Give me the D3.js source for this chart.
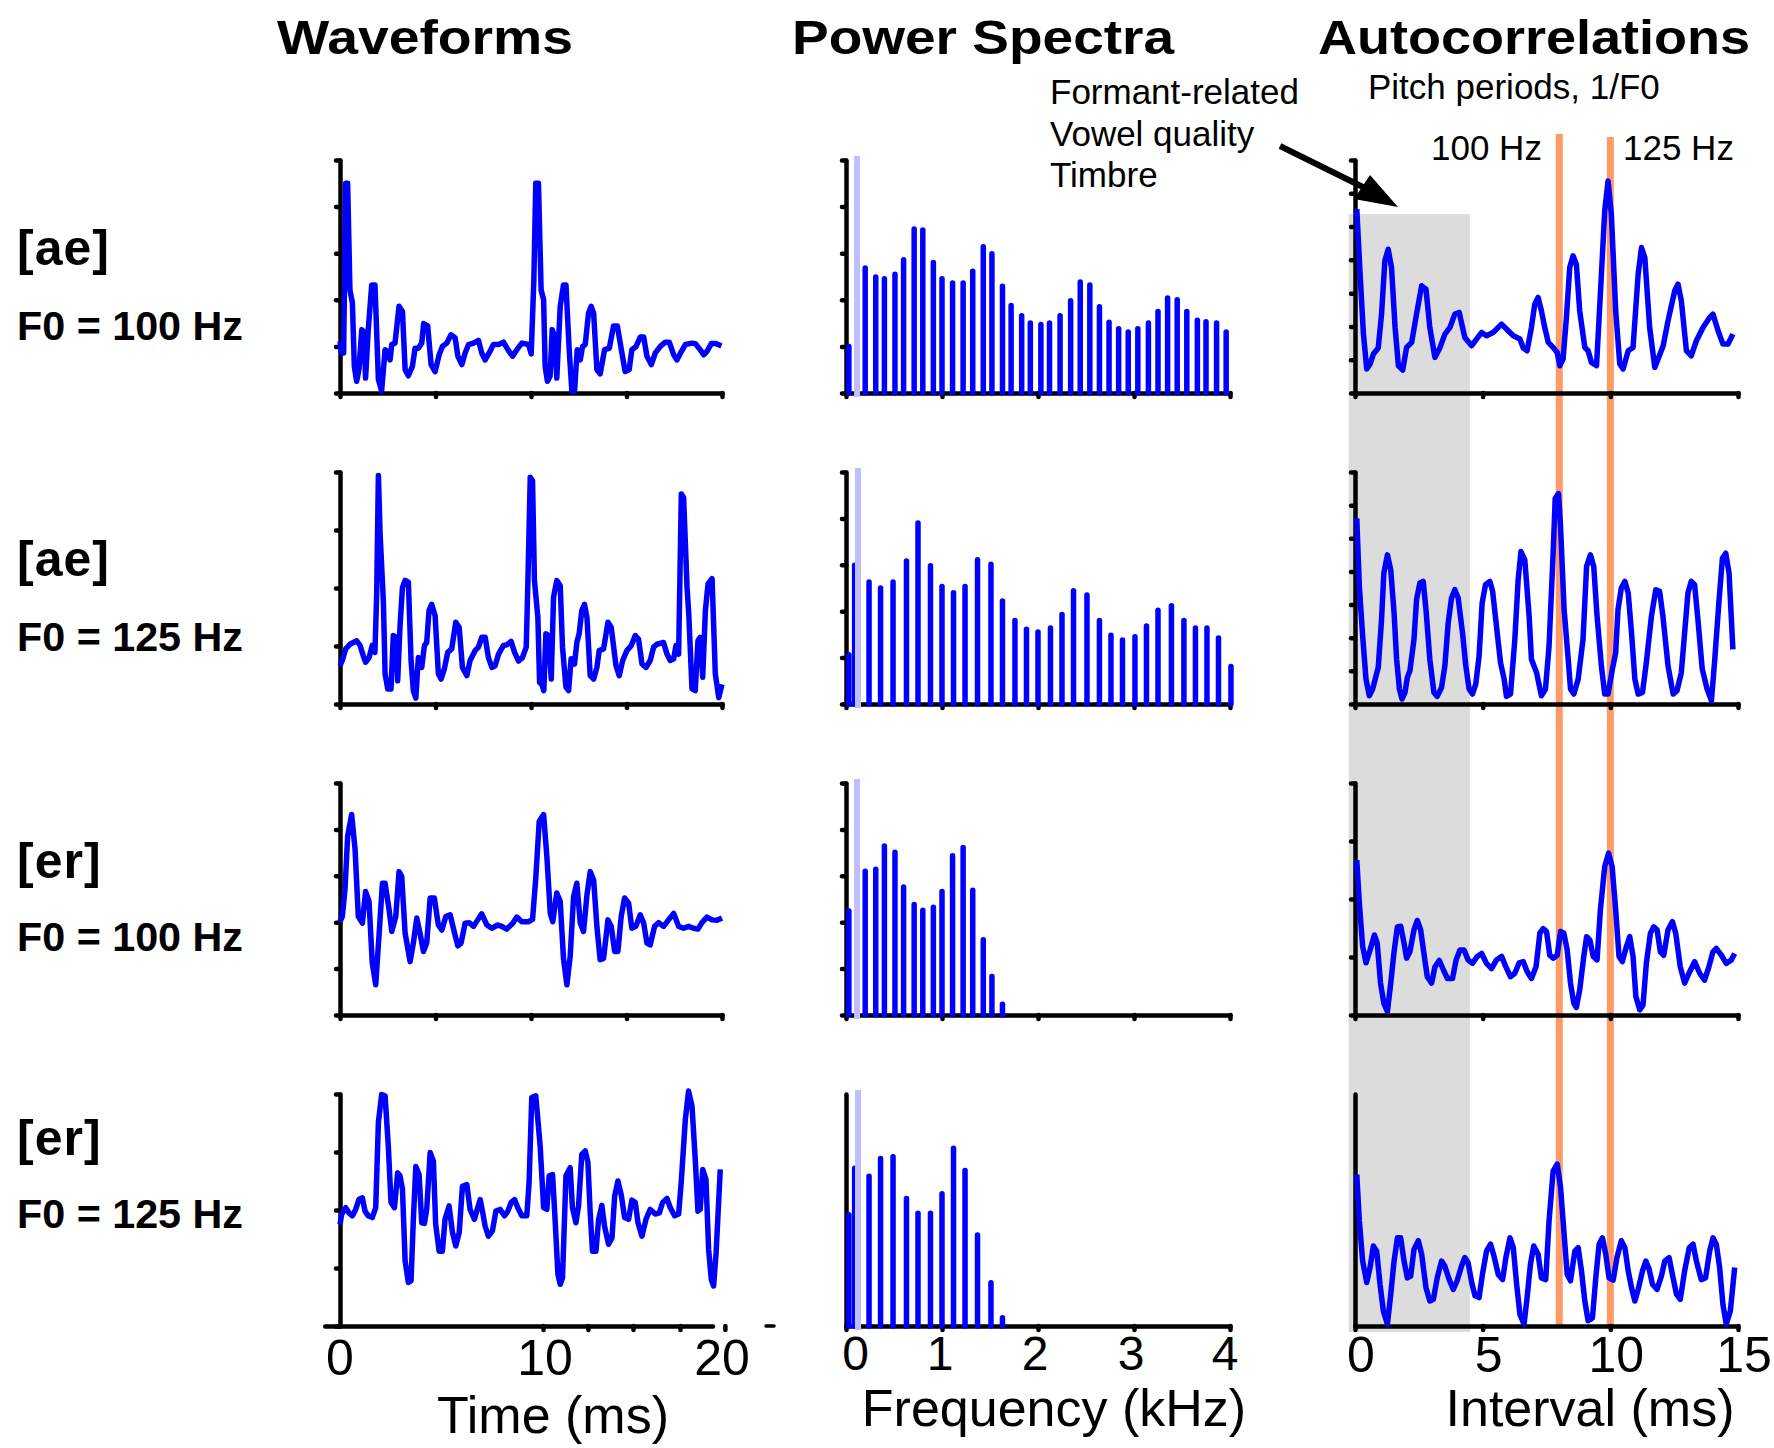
<!DOCTYPE html>
<html><head><meta charset="utf-8">
<script src="https://cdn.jsdelivr.net/npm/d3@7"></script>
<style>body{margin:0;background:#fff}svg{display:block}text{font-family:Arial,"Liberation Sans",Helvetica,sans-serif;fill:#000}</style>
</head><body><svg id="c" width="1774" height="1448"></svg>
<script>
// ---------- text ----------
const columnTitles = ["Waveforms", "Power Spectra", "Autocorrelations"];
const vowelLabels = ["[ae]", "[ae]", "[er]", "[er]"];
const f0Labels = ["F0 = 100 Hz", "F0 = 125 Hz", "F0 = 100 Hz", "F0 = 125 Hz"];
const formantNote = ["Formant-related", "Vowel quality", "Timbre"];
const pitchNote = "Pitch periods, 1/F0";
const pitchLineLabels = ["100 Hz", "125 Hz"];
const xAxisTitles = ["Time (ms)", "Frequency (kHz)", "Interval (ms)"];
const waveTickLabels = [0, 10, 20];
const specTickLabels = [0, 1, 2, 3, 4];
const acTickLabels = [0, 5, 10, 15];

// ---------- waveforms: [time ms, amplitude] ----------
const wave1 = [[0,1.11],[0.09,0.86],[0.19,0.86],[0.30,4.5],[0.40,4.5],[0.52,2.21],[0.65,1.93],[0.75,0.57],[0.87,0.25],[0.99,0.50],[1.14,1.36],[1.24,1.32],[1.34,0.32],[1.48,1.36],[1.66,2.32],[1.83,2.32],[2.01,0.29],[2.18,0.04],[2.36,0.93],[2.50,0.89],[2.62,0.71],[2.71,1.04],[2.88,1.07],[3.09,1.86],[3.27,1.75],[3.41,0.50],[3.58,0.37],[3.79,0.57],[3.93,0.96],[4.10,0.96],[4.28,1.07],[4.38,1.49],[4.59,1.44],[4.77,0.61],[4.98,0.46],[5.19,0.82],[5.36,1.00],[5.59,1.07],[5.81,1.25],[6.03,1.18],[6.17,0.79],[6.38,0.61],[6.55,0.86],[6.73,1.04],[6.99,1.07],[7.25,1.13],[7.42,0.86],[7.60,0.71],[7.81,0.86],[8.03,1.04],[8.30,1.04],[8.56,1.09],[8.79,0.93],[9.03,0.79],[9.26,0.93],[9.52,1.07],[9.87,1.04],[10.01,0.84],[10.15,2.43],[10.25,4.5],[10.39,4.5],[10.53,2.21],[10.66,2.0],[10.74,0.57],[10.86,0.25],[11.00,0.36],[11.11,1.36],[11.23,1.21],[11.35,0.32],[11.53,1.86],[11.70,2.32],[11.83,2.32],[12.00,0.93],[12.14,0.04],[12.28,0.04],[12.42,0.93],[12.58,0.71],[12.70,1.00],[12.84,1.04],[13.01,1.71],[13.15,1.86],[13.28,1.71],[13.45,0.50],[13.62,0.41],[13.85,0.93],[14.10,0.96],[14.32,1.44],[14.52,1.44],[14.76,0.86],[14.93,0.46],[15.14,0.50],[15.28,0.93],[15.49,0.99],[15.72,1.20],[15.90,1.20],[16.07,0.79],[16.30,0.61],[16.51,0.86],[16.77,1.00],[17.03,1.09],[17.24,1.09],[17.47,0.82],[17.64,0.71],[17.87,0.89],[18.08,1.04],[18.43,1.07],[18.60,1.06],[18.86,0.93],[19.04,0.82],[19.21,0.89],[19.44,1.06],[19.69,1.06],[19.97,1.01]];
const wave2 = [[0,0.66],[0.12,0.75],[0.30,0.95],[0.52,1.03],[0.70,1.06],[0.87,1.09],[1.05,1.01],[1.22,0.83],[1.34,0.72],[1.52,0.80],[1.69,1.01],[1.83,0.89],[1.92,1.90],[2.01,3.94],[2.10,2.93],[2.27,1.78],[2.36,0.52],[2.50,0.26],[2.67,0.26],[2.79,1.18],[2.92,1.15],[3.02,0.40],[3.14,1.32],[3.27,2.01],[3.41,2.13],[3.58,2.10],[3.72,0.75],[3.84,0.23],[3.97,0.10],[4.10,0.80],[4.28,0.63],[4.42,1.01],[4.54,1.06],[4.66,1.61],[4.80,1.72],[4.98,1.52],[5.15,0.52],[5.29,0.43],[5.46,0.60],[5.64,0.89],[5.85,0.95],[6.06,1.41],[6.24,1.32],[6.41,0.63],[6.64,0.49],[6.81,0.75],[7.07,0.92],[7.25,0.98],[7.42,1.15],[7.60,1.15],[7.77,0.80],[7.95,0.63],[8.12,0.66],[8.30,0.86],[8.56,1.01],[8.73,1.02],[8.96,1.08],[9.14,0.89],[9.35,0.74],[9.55,0.80],[9.75,0.98],[9.83,2.01],[9.96,3.91],[10.08,3.85],[10.18,2.13],[10.36,1.49],[10.45,0.37],[10.57,0.34],[10.67,0.23],[10.78,1.21],[10.92,1.18],[11.06,0.43],[11.18,1.84],[11.35,2.13],[11.53,2.04],[11.65,0.98],[11.83,0.29],[11.97,0.23],[12.10,0.78],[12.28,0.69],[12.40,1.06],[12.52,1.21],[12.66,1.61],[12.80,1.72],[12.93,1.49],[13.10,0.49],[13.28,0.43],[13.45,0.63],[13.57,0.92],[13.80,0.95],[14.03,1.41],[14.20,1.32],[14.45,0.66],[14.62,0.49],[14.80,0.75],[15.02,0.92],[15.25,1.01],[15.46,1.18],[15.63,1.12],[15.81,0.69],[16.02,0.63],[16.24,0.75],[16.42,0.98],[16.59,1.03],[16.94,1.06],[17.12,0.86],[17.29,0.75],[17.47,0.78],[17.59,1.01],[17.73,0.86],[17.87,3.62],[17.99,3.56],[18.17,2.01],[18.26,1.55],[18.43,0.26],[18.60,0.23],[18.74,1.09],[18.86,1.15],[18.99,0.46],[19.13,1.61],[19.27,2.07],[19.48,2.16],[19.65,0.52],[19.83,0.11],[20.0,0.34]];
const wave3 = [[0,2.01],[0.12,2.12],[0.26,2.70],[0.40,3.85],[0.61,4.32],[0.79,3.56],[0.96,2.12],[1.17,1.98],[1.34,2.66],[1.52,2.45],[1.69,1.12],[1.87,0.65],[2.05,1.76],[2.22,2.84],[2.36,2.84],[2.57,2.27],[2.71,1.80],[2.92,2.12],[3.09,3.09],[3.23,2.99],[3.41,1.76],[3.67,1.15],[3.84,1.55],[4.02,2.09],[4.19,1.76],[4.37,1.37],[4.54,1.55],[4.72,2.52],[4.94,2.52],[5.15,1.94],[5.33,1.83],[5.54,2.12],[5.77,2.16],[6.00,1.76],[6.17,1.49],[6.34,1.55],[6.55,1.98],[6.76,1.99],[6.99,1.91],[7.21,2.05],[7.42,2.18],[7.69,1.94],[7.95,1.87],[8.26,1.94],[8.47,1.91],[8.73,1.85],[9.05,1.98],[9.26,2.11],[9.52,2.01],[9.87,2.01],[10.08,2.06],[10.25,2.95],[10.43,4.17],[10.66,4.32],[10.83,3.42],[11.01,2.19],[11.14,2.01],[11.35,2.63],[11.53,2.45],[11.70,1.22],[11.88,0.65],[12.05,1.26],[12.23,2.55],[12.40,2.84],[12.58,1.98],[12.75,1.80],[12.93,2.59],[13.10,3.09],[13.28,2.91],[13.45,1.91],[13.62,1.19],[13.80,1.22],[14.03,2.05],[14.20,1.91],[14.38,1.37],[14.55,1.37],[14.72,2.12],[14.90,2.52],[15.11,2.41],[15.28,1.87],[15.49,1.91],[15.72,2.16],[15.90,1.98],[16.07,1.55],[16.24,1.51],[16.47,1.91],[16.68,1.99],[16.94,1.91],[17.20,2.05],[17.47,2.19],[17.73,1.91],[17.99,1.87],[18.25,1.91],[18.51,1.87],[18.74,1.85],[18.95,1.99],[19.21,2.11],[19.48,2.05],[19.74,2.04],[20.0,2.09]];
const wave4 = [[0,1.75],[0.09,1.93],[0.30,2.04],[0.47,1.95],[0.65,1.90],[0.82,2.01],[0.99,2.18],[1.17,2.21],[1.31,1.98],[1.48,1.90],[1.69,1.87],[1.87,2.04],[2.01,3.51],[2.18,3.99],[2.36,3.97],[2.53,3.10],[2.67,2.13],[2.85,2.04],[3.02,2.64],[3.14,2.59],[3.27,2.36],[3.41,1.12],[3.58,0.75],[3.72,0.78],[3.84,1.84],[3.97,2.75],[4.14,2.61],[4.28,1.78],[4.42,1.77],[4.54,2.01],[4.72,2.99],[4.89,2.84],[5.01,1.75],[5.19,1.29],[5.36,1.29],[5.50,1.84],[5.71,2.07],[5.89,1.61],[6.06,1.38],[6.24,1.61],[6.41,2.41],[6.64,2.44],[6.81,2.01],[7.04,1.84],[7.21,2.04],[7.34,2.18],[7.46,1.98],[7.60,1.72],[7.77,1.55],[7.98,1.64],[8.16,1.98],[8.38,2.01],[8.61,1.90],[8.79,1.98],[8.96,2.13],[9.14,2.18],[9.31,2.04],[9.52,1.90],[9.78,1.90],[9.90,2.47],[10.04,3.94],[10.25,3.97],[10.48,3.10],[10.66,2.04],[10.83,2.01],[10.95,2.59],[11.13,2.61],[11.27,1.78],[11.41,0.89],[11.53,0.72],[11.65,0.83],[11.83,2.59],[12.05,2.73],[12.17,2.04],[12.35,1.78],[12.49,2.07],[12.66,2.96],[12.84,3.02],[12.98,2.82],[13.10,1.95],[13.22,1.29],[13.40,1.29],[13.54,1.84],[13.71,2.08],[13.85,1.72],[14.06,1.41],[14.24,1.52],[14.38,2.24],[14.55,2.50],[14.72,2.27],[14.90,1.87],[15.11,1.84],[15.28,2.17],[15.46,2.13],[15.60,1.78],[15.81,1.55],[16.02,1.84],[16.24,2.01],[16.51,1.93],[16.72,1.95],[16.89,2.13],[17.12,2.20],[17.29,2.04],[17.52,1.90],[17.73,1.93],[17.87,2.50],[18.08,3.56],[18.25,4.05],[18.43,3.79],[18.60,2.87],[18.74,1.98],[18.86,2.01],[18.99,2.70],[19.16,2.53],[19.30,1.32],[19.44,0.80],[19.56,0.69],[19.69,1.26],[19.91,2.70]];
// bottom waveform time axis as drawn in the original (irregular ticks)
const wave4AxisExtentMs = [-0.8, 19.5];
const wave4AxisTicksMs = [10.63, 12.98, 15.34, 17.8, 20.15];

// ---------- power spectra: harmonic frequency (kHz) and level ----------
const spec1Freq = [0.03,0.20,0.31,0.40,0.51,0.60,0.71,0.80,0.91,1.00,1.11,1.22,1.32,1.43,1.52,1.63,1.72,1.83,1.92,2.03,2.12,2.23,2.34,2.44,2.54,2.64,2.74,2.84,2.94,3.04,3.15,3.25,3.35,3.45,3.55,3.66,3.75,3.86,3.96];
const spec1Amp  = [1.0,2.68,2.49,2.45,2.55,2.86,3.52,3.5,2.8,2.45,2.36,2.36,2.61,3.14,2.99,2.29,1.88,1.66,1.5,1.47,1.5,1.66,1.98,2.38,2.32,1.85,1.52,1.38,1.31,1.38,1.5,1.75,2.04,2.0,1.75,1.56,1.53,1.5,1.31];
const spec2Freq = [0.03,0.09,0.24,0.36,0.49,0.63,0.75,0.88,1.00,1.12,1.24,1.37,1.51,1.63,1.76,1.88,2.00,2.13,2.25,2.37,2.51,2.64,2.76,2.88,3.01,3.13,3.25,3.39,3.52,3.64,3.76,3.88,4.01];
const spec2Amp  = [1.06,2.99,2.63,2.50,2.63,3.08,3.90,2.98,2.53,2.40,2.53,3.11,3.01,2.22,1.80,1.61,1.55,1.64,1.93,2.44,2.35,1.80,1.48,1.38,1.45,1.68,2.02,2.12,1.80,1.64,1.64,1.42,0.81];
const spec3Freq = [0.03,0.20,0.31,0.40,0.51,0.60,0.71,0.80,0.91,1.00,1.11,1.22,1.32,1.43,1.52,1.63];
const spec3Amp  = [2.24,3.10,3.14,3.64,3.51,2.76,2.38,2.26,2.32,2.66,3.43,3.61,2.69,1.62,0.83,0.23];
const spec4Freq = [0.03,0.09,0.24,0.36,0.49,0.63,0.75,0.88,1.00,1.12,1.24,1.37,1.51,1.63];
const spec4Amp  = [2.40,3.40,3.23,3.61,3.65,2.75,2.43,2.43,2.85,3.83,3.35,1.96,0.93,0.18];
const f0BandKHz = [0.115, 0.125, 0.115, 0.125];
const specTickLabelPosKHz = [0.1, 0.98, 1.97, 2.97, 3.95];

// ---------- autocorrelations: [lag ms, value] ----------
const ac1 = [[0.07,5.52],[0.2,3.57],[0.33,1.77],[0.46,0.72],[0.59,0.87],[0.72,1.17],[0.91,1.35],[1.04,2.37],[1.17,3.97],[1.30,4.32],[1.43,3.77],[1.57,1.97],[1.70,0.82],[1.87,0.69],[2.02,1.37],[2.22,1.52],[2.41,2.37],[2.61,3.22],[2.78,3.12],[2.93,1.97],[3.13,1.07],[3.33,1.37],[3.52,1.77],[3.72,1.97],[3.91,2.37],[4.08,2.42],[4.30,1.67],[4.57,1.42],[4.76,1.62],[4.96,1.82],[5.15,1.72],[5.41,1.82],[5.74,2.07],[6.00,1.87],[6.20,1.72],[6.46,1.62],[6.59,1.35],[6.74,1.27],[6.91,1.97],[7.04,2.67],[7.17,2.87],[7.30,2.47],[7.43,1.97],[7.57,1.52],[7.76,1.37],[7.92,1.22],[8.02,0.82],[8.15,1.02],[8.28,2.27],[8.41,3.77],[8.54,4.12],[8.67,3.87],[8.80,2.47],[9.00,1.37],[9.13,1.27],[9.26,0.92],[9.46,0.82],[9.61,2.97],[9.78,5.47],[9.91,6.37],[10.04,5.37],[10.21,2.47],[10.37,0.87],[10.50,0.72],[10.70,1.27],[10.89,1.37],[11.09,3.57],[11.22,4.37],[11.35,4.07],[11.54,1.97],[11.74,0.77],[11.87,1.02],[12.07,1.42],[12.26,2.17],[12.52,3.07],[12.65,3.27],[12.78,2.77],[12.98,1.27],[13.17,1.12],[13.37,1.57],[13.63,1.97],[13.89,2.27],[14.02,2.37],[14.22,1.87],[14.41,1.47],[14.61,1.47],[14.80,1.77]];
const ac2 = [[0.07,5.6],[0.17,3.55],[0.30,2.05],[0.43,0.75],[0.56,0.25],[0.69,0.45],[0.91,1.10],[1.04,2.55],[1.13,3.95],[1.27,4.50],[1.40,4.05],[1.53,2.75],[1.63,1.35],[1.74,0.45],[1.84,0.15],[1.96,0.35],[2.05,0.80],[2.15,1.00],[2.31,1.95],[2.41,3.15],[2.54,3.65],[2.67,3.70],[2.78,2.85],[2.93,1.35],[3.09,0.35],[3.22,0.23],[3.39,0.50],[3.52,1.15],[3.65,2.45],[3.78,3.20],[3.91,3.45],[4.04,3.20],[4.21,2.15],[4.34,1.15],[4.47,0.45],[4.60,0.30],[4.73,0.60],[4.86,1.45],[4.98,3.05],[5.11,3.60],[5.28,3.70],[5.39,3.40],[5.54,2.35],[5.70,1.25],[5.84,0.75],[5.93,0.23],[6.09,0.30],[6.26,1.95],[6.39,3.75],[6.50,4.60],[6.65,4.35],[6.82,2.65],[6.91,1.35],[7.11,0.95],[7.30,0.25],[7.46,0.45],[7.60,1.75],[7.76,4.55],[7.84,6.20],[7.97,6.35],[8.05,5.35],[8.19,2.85],[8.35,1.35],[8.44,0.45],[8.57,0.30],[8.74,0.75],[8.93,1.95],[9.07,4.15],[9.22,4.50],[9.35,4.15],[9.48,2.65],[9.65,1.15],[9.78,0.30],[9.91,0.30],[10.08,1.05],[10.21,1.55],[10.30,2.85],[10.43,3.50],[10.57,3.70],[10.70,3.35],[10.83,2.15],[10.96,0.75],[11.09,0.30],[11.26,0.35],[11.41,1.25],[11.61,2.65],[11.78,3.45],[11.93,3.40],[12.06,2.65],[12.26,1.15],[12.46,0.30],[12.61,0.40],[12.78,0.95],[12.91,2.15],[13.04,3.35],[13.17,3.70],[13.30,3.60],[13.43,2.55],[13.60,1.05],[13.79,0.45],[13.96,0.10],[14.09,1.35],[14.26,3.15],[14.39,4.40],[14.52,4.55],[14.65,3.95],[14.80,1.65]];
const ac3 = [[0.07,2.67],[0.17,1.93],[0.30,1.18],[0.43,0.90],[0.59,1.12],[0.76,1.38],[0.87,1.24],[1.00,0.55],[1.13,0.20],[1.27,0.06],[1.40,0.55],[1.53,1.09],[1.66,1.52],[1.79,1.53],[1.92,1.24],[2.02,0.98],[2.15,1.09],[2.31,1.47],[2.44,1.63],[2.57,1.47],[2.70,1.06],[2.83,0.66],[3.00,0.55],[3.13,0.83],[3.30,0.94],[3.46,0.78],[3.62,0.63],[3.82,0.63],[3.96,0.95],[4.11,1.12],[4.27,1.12],[4.43,0.95],[4.60,0.89],[4.79,1.01],[4.96,1.06],[5.15,0.89],[5.35,0.80],[5.54,0.95],[5.74,1.01],[5.91,0.83],[6.09,0.66],[6.26,0.72],[6.43,0.90],[6.59,0.92],[6.74,0.75],[6.91,0.63],[7.09,0.83],[7.24,1.41],[7.37,1.49],[7.50,1.44],[7.63,1.03],[7.76,0.98],[7.92,1.03],[8.05,1.44],[8.18,1.41],[8.31,1.12],[8.44,0.55],[8.57,0.20],[8.67,0.13],[8.80,0.43],[8.96,1.01],[9.07,1.35],[9.20,1.29],[9.33,1.01],[9.48,0.95],[9.61,1.81],[9.78,2.56],[9.93,2.79],[10.07,2.56],[10.21,1.81],[10.34,1.01],[10.47,0.92],[10.63,1.18],[10.76,1.35],[10.89,1.01],[11.00,0.32],[11.15,0.09],[11.28,0.17],[11.41,0.89],[11.57,1.41],[11.70,1.52],[11.83,1.47],[11.96,1.09],[12.09,1.03],[12.26,1.47],[12.43,1.61],[12.56,1.41],[12.74,0.83],[12.91,0.55],[13.08,0.72],[13.30,0.92],[13.50,0.72],[13.69,0.60],[13.86,0.83],[14.02,1.09],[14.15,1.15],[14.35,1.03],[14.54,0.89],[14.74,0.95],[14.87,1.06]];
const ac4 = [[0.07,2.61],[0.17,1.81],[0.30,1.12],[0.46,0.75],[0.59,1.01],[0.72,1.38],[0.85,1.29],[0.98,0.72],[1.11,0.26],[1.27,0.03],[1.40,0.55],[1.53,1.12],[1.66,1.52],[1.79,1.52],[1.92,1.12],[2.05,0.83],[2.18,0.86],[2.31,1.32],[2.48,1.47],[2.61,1.24],[2.78,0.66],[2.93,0.43],[3.07,0.46],[3.22,0.83],[3.39,1.12],[3.52,1.03],[3.69,0.80],[3.85,0.63],[4.00,0.78],[4.17,1.03],[4.30,1.18],[4.43,1.09],[4.57,0.75],[4.70,0.52],[4.86,0.49],[4.99,0.89],[5.15,1.29],[5.31,1.41],[5.44,1.21],[5.61,0.89],[5.78,0.80],[5.91,1.18],[6.07,1.52],[6.20,1.35],[6.33,0.72],[6.46,0.20],[6.62,0.03],[6.74,0.49],[6.87,1.06],[7.00,1.38],[7.17,1.24],[7.30,0.83],[7.47,0.80],[7.60,1.81],[7.76,2.67],[7.92,2.79],[8.05,2.39],[8.18,1.64],[8.31,0.89],[8.44,0.78],[8.61,1.29],[8.74,1.35],[8.87,0.95],[9.00,0.43],[9.13,0.09],[9.30,0.14],[9.43,0.83],[9.56,1.41],[9.69,1.52],[9.82,1.24],[9.95,0.83],[10.11,0.79],[10.26,1.18],[10.43,1.47],[10.57,1.35],[10.70,0.95],[10.83,0.66],[10.96,0.43],[11.09,0.63],[11.26,0.95],[11.39,1.12],[11.52,0.98],[11.65,0.72],[11.83,0.63],[12.00,0.86],[12.13,1.12],[12.30,1.18],[12.43,0.89],[12.59,0.55],[12.74,0.46],[12.91,0.95],[13.09,1.35],[13.24,1.41],[13.37,1.12],[13.56,0.80],[13.73,0.83],[13.89,1.29],[14.02,1.52],[14.15,1.41],[14.28,1.01],[14.41,0.37],[14.54,0.03],[14.70,0.26],[14.87,1.01]];
const pitchPeriodsMs = [8, 10];       // 1/125 Hz and 1/100 Hz
const formantRegionMs = [-0.25, 4.5];  // shaded short-lag region

// ---------- layout ----------
const svg = d3.select("#c");
const rowTop = [160, 472, 783, 1094], rowBot = [393, 704, 1015, 1326];
const waveX = d3.scaleLinear().domain([0, 20]).range([340, 722]);
const specX = d3.scaleLinear().domain([0, 4]).range([846, 1230]);
const acX = d3.scaleLinear().domain([0, 15]).range([1355, 1738]);
const waveYMax = [5, 4, 5, 4], specYMax = [5, 5, 5, 5], acYMax = [7, 7, 4, 4];
const specYTicksOn = [true, true, true, false], acYTicksOn = [true, true, true, false];
const waves = [wave1, wave2, wave3, wave4];
const specs = [[spec1Freq, spec1Amp], [spec2Freq, spec2Amp], [spec3Freq, spec3Amp], [spec4Freq, spec4Amp]];
const acs = [ac1, ac2, ac3, ac4];
const BLUE = "#0000ff", AXW = 4.5, LW = 5.5;

// shaded region + pitch lines
const acBack = svg.append("g");
acBack.append("rect")
  .attr("x", acX(formantRegionMs[0])).attr("y", 214)
  .attr("width", acX(formantRegionMs[1]) - acX(formantRegionMs[0])).attr("height", 1332 - 214)
  .attr("fill", "#dcdcdc");
acBack.selectAll("line.pitch").data(pitchPeriodsMs).join("line")
  .attr("x1", d => acX(d)).attr("x2", d => acX(d))
  .attr("y1", (d, i) => i === 0 ? 134 : 137).attr("y2", 1325)
  .attr("stroke", "#ff9a66").attr("stroke-width", 7);

function styleAxis(g) {
  g.select(".domain").attr("stroke", "#000").attr("stroke-width", AXW).attr("stroke-linecap", "round");
  g.selectAll(".tick line").attr("stroke", "#000").attr("stroke-width", AXW).attr("stroke-linecap", "round");
  g.selectAll(".tick text").remove();
}
function xAxis(xScale, r, xTicks) {
  const gx = svg.append("g").attr("transform", `translate(0,${rowBot[r]})`)
    .call(d3.axisBottom(xScale).tickValues(xTicks).tickSize(4).tickSizeOuter(0));
  styleAxis(gx);
}
function yAxis(xPos, y, yTicks) {
  const gy = svg.append("g").attr("transform", `translate(${xPos},0)`)
    .call(d3.axisLeft(y).tickValues(yTicks).tickSize(4).tickSizeOuter(0));
  styleAxis(gy);
}

for (let r = 0; r < 4; r++) {
  // waveform
  const wy = d3.scaleLinear().domain([0, waveYMax[r]]).range([rowBot[r], rowTop[r]]);
  if (r < 3) xAxis(waveX, r, [0, 5, 10, 15, 20]);
  else {
    const ax4 = d3.scaleLinear().domain(wave4AxisExtentMs).range(wave4AxisExtentMs.map(waveX));
    xAxis(ax4, r, wave4AxisTicksMs);
  }
  yAxis(waveX(0), wy, d3.range(0, waveYMax[r] + 1));
  svg.append("path").datum(waves[r])
    .attr("d", d3.line().x(d => waveX(d[0])).y(d => wy(d[1])))
    .attr("fill", "none").attr("stroke", BLUE).attr("stroke-width", LW).attr("stroke-linejoin", "round");

  // spectrum
  const sy = d3.scaleLinear().domain([0, specYMax[r]]).range([rowBot[r], rowTop[r]]);
  xAxis(specX, r, [0, 1, 2, 3, 4]);
  yAxis(specX(0), sy, specYTicksOn[r] ? d3.range(0, specYMax[r] + 1) : []);
  const [fq, am] = specs[r];
  svg.append("g").selectAll("line").data(fq.map((f, i) => [f, am[i]])).join("line")
    .attr("x1", d => specX(d[0])).attr("x2", d => specX(d[0]))
    .attr("y1", rowBot[r]).attr("y2", d => sy(d[1]))
    .attr("stroke", BLUE).attr("stroke-width", LW).attr("stroke-linecap", "round");
  svg.append("line")
    .attr("x1", specX(f0BandKHz[r])).attr("x2", specX(f0BandKHz[r]))
    .attr("y1", rowTop[r] - 4).attr("y2", rowBot[r] + 4)
    .attr("stroke", "#bfbfff").attr("stroke-width", 6);

  // autocorrelation
  const ay = d3.scaleLinear().domain([0, acYMax[r]]).range([rowBot[r], rowTop[r]]);
  xAxis(acX, r, [0, 5, 10, 15]);
  yAxis(acX(0), ay, acYTicksOn[r] ? d3.range(0, acYMax[r] + 1) : []);
  svg.append("path").datum(acs[r])
    .attr("d", d3.line().x(d => acX(d[0])).y(d => ay(d[1])))
    .attr("fill", "none").attr("stroke", BLUE).attr("stroke-width", LW).attr("stroke-linejoin", "round");
}
// stray dash beside the bottom time axis (present in the original)
svg.append("line").attr("x1", 766).attr("x2", 774).attr("y1", 1326).attr("y2", 1326)
  .attr("stroke", "#000").attr("stroke-width", 3.5).attr("stroke-linecap", "round");

// ---------- titles ----------
const titleSpec = [[277, 296], [792, 382], [1318, 432]];
svg.selectAll("text.title").data(columnTitles).join("text").attr("class", "title")
  .attr("x", (d, i) => titleSpec[i][0]).attr("y", 54)
  .attr("textLength", (d, i) => titleSpec[i][1]).attr("lengthAdjust", "spacingAndGlyphs")
  .attr("font-size", 48).attr("font-weight", "bold").text(d => d);

const labBase = [265, 576, 878, 1155], f0Base = [340, 651, 951, 1228];
svg.selectAll("text.vowel").data(vowelLabels).join("text").attr("class", "vowel")
  .attr("x", 17).attr("y", (d, i) => labBase[i]).attr("font-size", 50).attr("font-weight", "bold")
  .attr("letter-spacing", 1).text(d => d);
svg.selectAll("text.f0").data(f0Labels).join("text").attr("class", "f0")
  .attr("x", 17).attr("y", (d, i) => f0Base[i]).attr("font-size", 40).attr("font-weight", "bold")
  .attr("textLength", 226).attr("lengthAdjust", "spacingAndGlyphs").text(d => d);

// ---------- annotations ----------
svg.selectAll("text.fnote").data(formantNote).join("text").attr("class", "fnote")
  .attr("x", 1050).attr("y", (d, i) => 104 + i * 41.5).attr("font-size", 35).text(d => d);
svg.append("text").attr("x", 1368).attr("y", 99).attr("font-size", 35).text(pitchNote);
svg.append("text").attr("x", 1431).attr("y", 160).attr("font-size", 35).text(pitchLineLabels[0]);
svg.append("text").attr("x", 1623).attr("y", 160).attr("font-size", 35).text(pitchLineLabels[1]);
// arrow
svg.append("line").attr("x1", 1280).attr("y1", 146).attr("x2", 1375).attr("y2", 193)
  .attr("stroke", "#000").attr("stroke-width", 6);
svg.append("path").attr("d", "M1398,207 L1370,175 L1354,199 Z").attr("fill", "#000");

// ---------- bottom tick labels & axis titles ----------
svg.selectAll("text.wt").data(waveTickLabels).join("text").attr("class", "wt")
  .attr("x", d => waveX(d) + (d === 10 ? 14 : 0)).attr("y", 1375).attr("text-anchor", "middle")
  .attr("font-size", 50).text(d => d);
svg.selectAll("text.st").data(specTickLabels).join("text").attr("class", "st")
  .attr("x", (d, i) => specX(specTickLabelPosKHz[i])).attr("y", 1370).attr("text-anchor", "middle")
  .attr("font-size", 48).text(d => d);
svg.selectAll("text.at").data(acTickLabels).join("text").attr("class", "at")
  .attr("x", d => acX(d) + 6).attr("y", 1372).attr("text-anchor", "middle")
  .attr("font-size", 50).text(d => d);
const axTitleSpec = [[553, 1433], [1054, 1426], [1590, 1426]];
svg.selectAll("text.axt").data(xAxisTitles).join("text").attr("class", "axt")
  .attr("x", (d, i) => axTitleSpec[i][0]).attr("y", (d, i) => axTitleSpec[i][1])
  .attr("text-anchor", "middle").attr("font-size", 52).text(d => d);
</script></body></html>
